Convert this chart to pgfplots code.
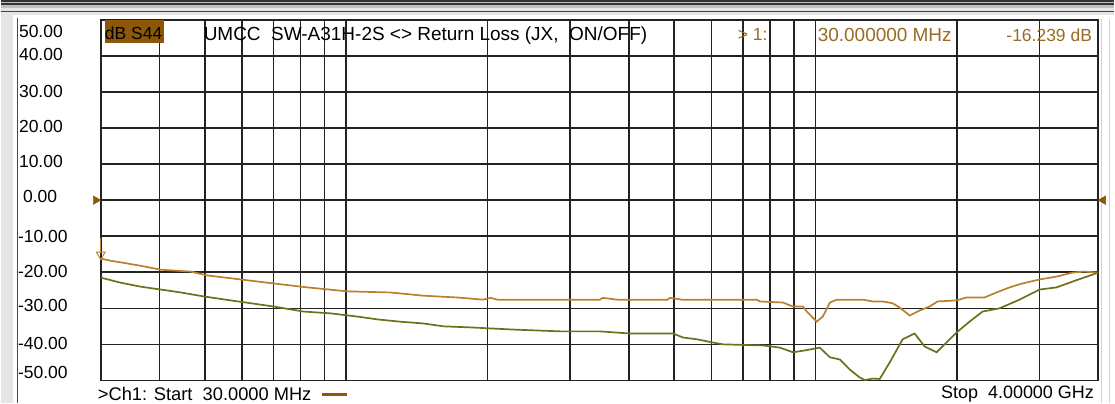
\documentclass[border=0pt]{standalone}
\usepackage{fontspec}
\setmainfont{Liberation Sans}
\usepackage{pgfplots}
\pgfplotsset{compat=1.18}
\definecolor{trA}{RGB}{186,128,44}
\definecolor{trB}{RGB}{112,112,28}
\definecolor{boxbrown}{RGB}{140,88,8}
\definecolor{txtbrown}{RGB}{152,108,36}
\definecolor{gridc}{RGB}{35,35,35}
\begin{document}
\begin{tikzpicture}[font=\fontsize{17.5}{20}\selectfont]
\fill[white] (0pt,0pt) rectangle (1115pt,404pt);
% top band
\fill[gray!50] (0pt,396pt) rectangle (1115pt,404pt);
\draw[black!80, line width=1.5pt] (0pt,403.2pt) -- (1115pt,403.2pt);
\draw[black!80, line width=1.5pt] (0pt,400pt) -- (1115pt,400pt);
\fill[gray!20] (0pt,389pt) rectangle (1115pt,396pt);
\draw[red!85!black, line width=1.8pt] (0pt,392.5pt) -- (1115pt,392.5pt);
% left bar
\fill[gray!20] (0pt,0pt) rectangle (12pt,389pt);
\draw[gray!60!black, line width=1.2pt] (16.5pt,0pt) -- (16.5pt,386pt);
% right lines
\draw[gray!35, line width=1.2pt] (1102pt,0pt) -- (1102pt,385pt);
\draw[gray!35, line width=1.2pt] (1110pt,0pt) -- (1110pt,385pt);

\begin{axis}[
  at={(100pt,23pt)}, anchor=south west,
  width=999pt, height=361pt, scale only axis,
  xmode=log, xmin=30, xmax=4000, ymin=-50, ymax=50,
  xtick={40,50,60,70,80,90,100,200,300,400,500,600,700,800,900,1000,2000,3000},
  minor xtick={},
  xticklabels={},
  ytick={-40,-30,-20,-10,0,10,20,30,40},
  yticklabels={},
  grid=major,
  major grid style={gridc, line width=1.6pt},
  axis line style={gridc, line width=1.6pt},
  tick style={draw=none},
  clip=false,
]
% trace 1 (orange)
\addplot[trA, line width=1.7pt] coordinates {
(30,-16.2) (31.5,-16.8) (33.6,-17.4) (36.5,-18.2) (40.3,-19.3) (46.6,-19.8)
(50.7,-20.9) (59.6,-22.0) (70,-23.1) (82.7,-24.2) (100.6,-25.3) (124,-25.6)
(146,-26.5) (172.5,-27.0) (196,-27.6) (203,-27.1) (210,-27.6) (347,-27.6)
(352,-27.1) (378,-27.6) (483,-27.6) (490,-27.1) (519,-27.6) (750,-27.6)
(761,-28.1) (852,-28.4) (895,-29.5) (940,-29.5) (958,-30.9) (1006,-33.7)
(1036,-32.3) (1073,-28.4) (1110,-27.6) (1261,-27.6) (1324,-28.1) (1390,-28.1)
(1460,-28.6) (1511,-29.8) (1587,-32.0) (1667,-30.6) (1750,-29.5) (1820,-28.1)
(1998,-27.8) (2098,-27.0) (2291,-27.0) (2430,-25.6) (2590,-24.2) (2760,-23.1)
(3000,-22.0) (3261,-21.2) (3526,-20.1) (3739,-19.8) (4000,-20.1)
};
% trace 2 (olive)
\addplot[trB, line width=1.7pt] coordinates {
(30,-21.5) (33.1,-22.9) (36.5,-24.0) (40.3,-24.8) (44.4,-25.6) (49.7,-26.7)
(56.7,-27.8) (63.5,-28.7) (70,-29.5) (81.1,-30.9) (92.6,-31.4) (105.7,-32.3)
(117,-33.1) (130,-33.7) (146,-34.2) (161,-35.0) (184,-35.3) (227,-35.9)
(286,-36.4) (347,-36.4) (403,-37.0) (497,-37.0) (522,-38.1) (559,-38.6)
(605,-39.5) (635,-40.0) (772,-40.3) (839,-40.9) (895,-42.2) (958,-41.6)
(1021,-40.9) (1073,-43.6) (1127,-44.2) (1183,-47.0) (1242,-49.2) (1273,-49.9)
(1324,-49.5) (1370,-49.6) (1439,-45.0) (1533,-38.6) (1626,-37.0) (1708,-40.6)
(1811,-42.2) (1998,-36.7) (2129,-33.7) (2269,-30.9) (2466,-30.0) (2720,-27.6)
(3000,-24.8) (3261,-24.2) (3526,-22.6) (4000,-20.1)
};
% reference level markers
\addplot[only marks, mark=triangle*, mark size=5pt, color=boxbrown,
  mark options={xshift=-5pt, rotate=-90}] coordinates {(30,0)};
\addplot[only marks, mark=triangle*, mark size=5pt, color=boxbrown,
  mark options={xshift=5pt, rotate=90}] coordinates {(4000,0)};
% marker 1
\addplot[trA, line width=1.2pt] coordinates {(30,-10.4) (30,-14.6)};
\addplot[only marks, mark=triangle, mark size=5pt, color=trA,
  mark options={yshift=4pt, rotate=180, line width=1pt}] coordinates {(30,-16.2)};
\end{axis}

% header texts
\fill[boxbrown] (104pt,361pt) rectangle (163pt,384pt);
\node[anchor=west, inner sep=0pt] at (104pt,371pt) {dB S44};
\node[anchor=west, inner sep=0pt, font=\fontsize{19}{22}\selectfont] at (203pt,368pt) {UMCC\ \ SW-A31H-2S <> Return Loss (JX,\ \ ON/OFF)};
\node[anchor=west, inner sep=0pt, text=txtbrown] at (738pt,369pt) {> 1:};
\node[anchor=west, inner sep=0pt, text=txtbrown, font=\fontsize{19}{22}\selectfont] at (818pt,369pt) {30.000000 MHz};
\node[anchor=east, inner sep=0pt, text=txtbrown] at (1093pt,369pt) {-16.239 dB};

% y labels
\node[anchor=west, inner sep=0pt] at (18pt,372pt) {50.00};
\node[anchor=west, inner sep=0pt] at (18pt,349pt) {40.00};
\node[anchor=west, inner sep=0pt] at (18pt,312pt) {30.00};
\node[anchor=west, inner sep=0pt] at (18pt,277pt) {20.00};
\node[anchor=west, inner sep=0pt] at (18pt,242pt) {10.00};
\node[anchor=west, inner sep=0pt] at (22pt,207pt) {0.00};
\node[anchor=west, inner sep=0pt] at (17pt,167pt) {-10.00};
\node[anchor=west, inner sep=0pt] at (17pt,132pt) {-20.00};
\node[anchor=west, inner sep=0pt] at (17pt,98pt) {-30.00};
\node[anchor=west, inner sep=0pt] at (17pt,60pt) {-40.00};
\node[anchor=west, inner sep=0pt] at (17pt,31pt) {-50.00};

% footer
\node[anchor=west, inner sep=0pt, font=\fontsize{18.3}{21}\selectfont] at (97pt,9pt) {>Ch1: Start\ \ 30.0000 MHz};
\draw[boxbrown, line width=3pt] (322pt,9pt) -- (347pt,9pt);
\node[anchor=east, inner sep=0pt, font=\fontsize{18}{21}\selectfont] at (1095pt,9pt) {Stop\ \ 4.00000 GHz};
\end{tikzpicture}
\end{document}
